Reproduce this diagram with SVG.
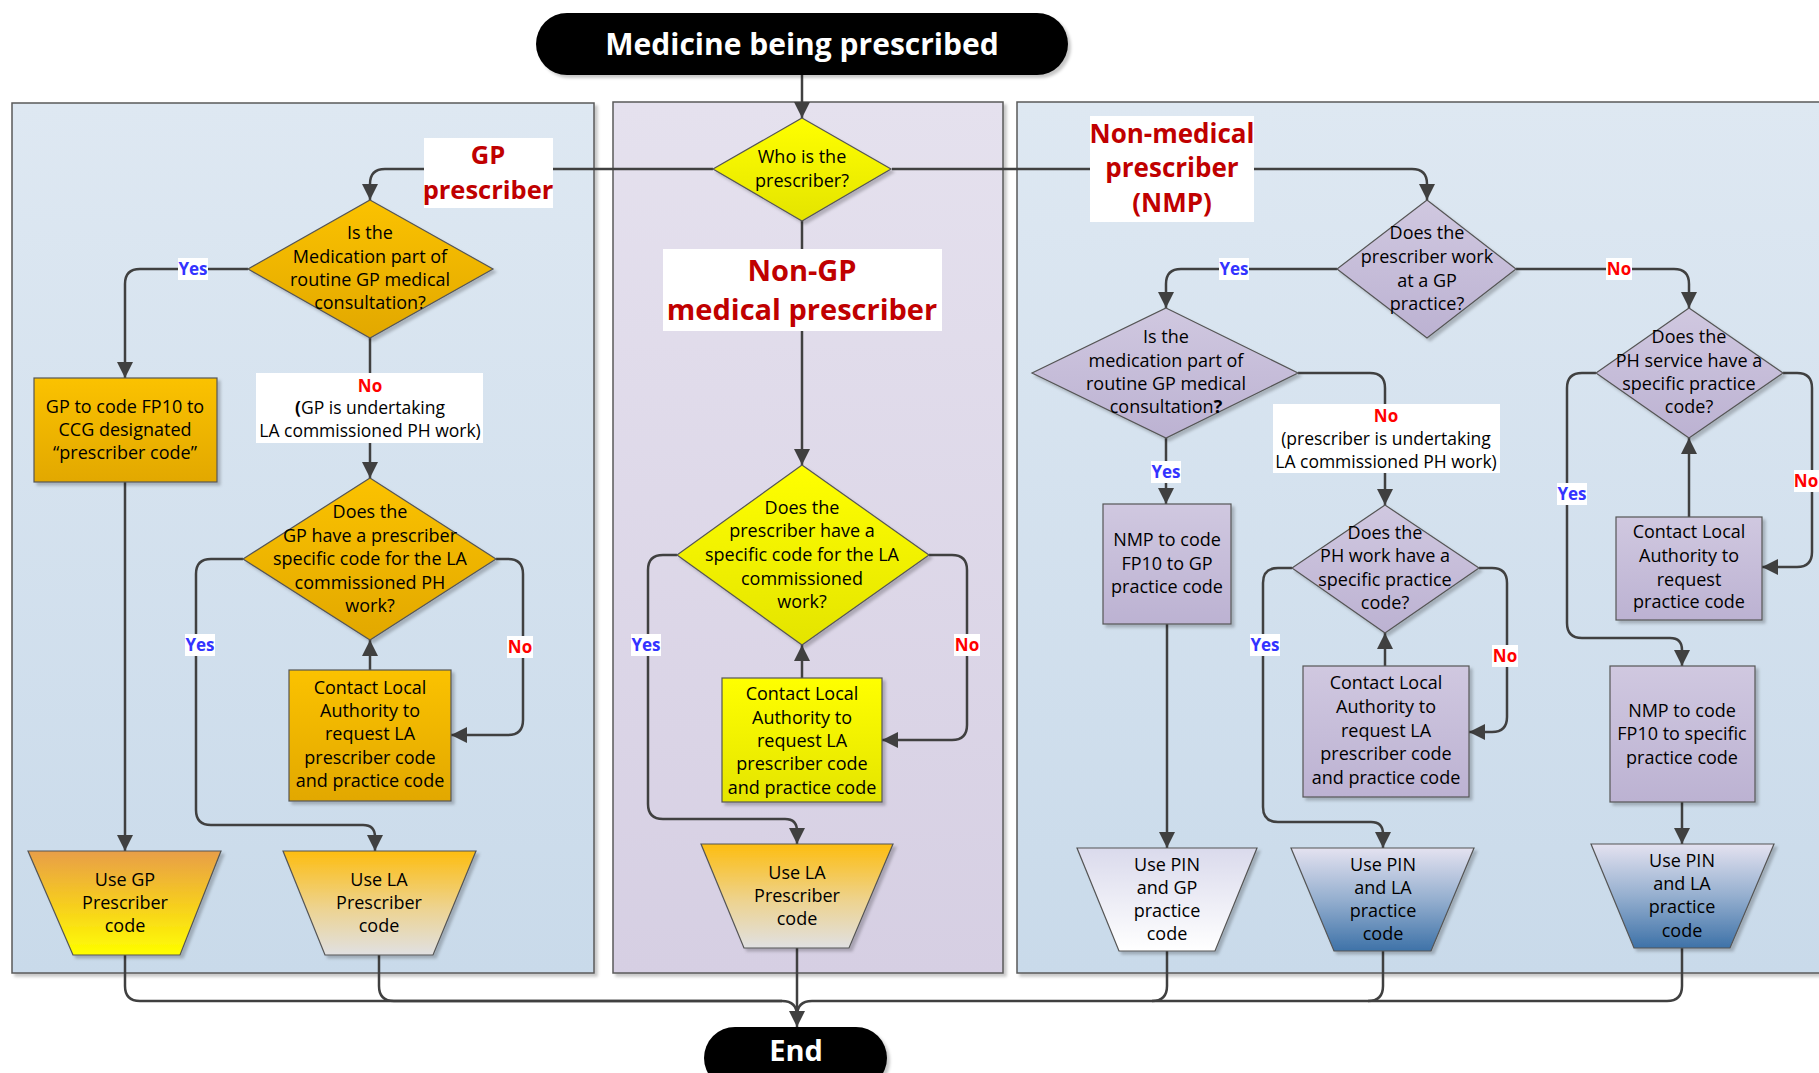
<svg xmlns="http://www.w3.org/2000/svg" width="1819" height="1073" viewBox="0 0 1819 1073">
<defs>
<style>
.conn{fill:none;stroke:#404040;stroke-width:2.5;stroke-linejoin:round}
.arr{marker-end:url(#ah)}
.t{font-family:"Open Sans","Liberation Sans",sans-serif;font-size:18px;fill:#000;text-anchor:middle}
.s17{font-size:17.5px}
.b{font-weight:700}
.yes{font-family:"Open Sans","Liberation Sans",sans-serif;font-size:17px;font-weight:700;fill:#3333FF;text-anchor:middle}
.no{font-family:"Open Sans","Liberation Sans",sans-serif;font-size:17px;font-weight:700;fill:#FF0000;text-anchor:middle}
.big{font-family:"Open Sans","Liberation Sans",sans-serif;font-weight:700;fill:#C00000;text-anchor:middle}
.term{font-family:"Open Sans","Liberation Sans",sans-serif;font-weight:700;fill:#fff;text-anchor:middle}
.wb{fill:#fff}
.nd{stroke:#555;stroke-width:1.2;filter:url(#sh)}
.lane{stroke:#5a5a5a;stroke-width:1.5;filter:url(#sh)}
.org{fill:url(#gOrg)}
.yel{fill:url(#gYel)}
.lav{fill:url(#gLav)}
</style>
<linearGradient id="gBlue" x1="0" y1="0" x2="0" y2="1"><stop offset="0" stop-color="#DEE8F2"/><stop offset="1" stop-color="#C9DAEA"/></linearGradient>
<linearGradient id="gPurp" x1="0" y1="0" x2="0" y2="1"><stop offset="0" stop-color="#E5E1EE"/><stop offset="1" stop-color="#D6CFE3"/></linearGradient>
<linearGradient id="gOrg" x1="0" y1="0" x2="0" y2="1"><stop offset="0" stop-color="#FBC200"/><stop offset="1" stop-color="#E2A800"/></linearGradient>
<linearGradient id="gYel" x1="0" y1="0" x2="0" y2="1"><stop offset="0" stop-color="#FFFF00"/><stop offset="1" stop-color="#E4E400"/></linearGradient>
<linearGradient id="gLav" x1="0" y1="0" x2="0" y2="1"><stop offset="0" stop-color="#D0C8E0"/><stop offset="1" stop-color="#BCB2D2"/></linearGradient>
<linearGradient id="gTrGP" x1="0" y1="0" x2="0" y2="1"><stop offset="0" stop-color="#E89E48"/><stop offset="0.5" stop-color="#F6CC20"/><stop offset="1" stop-color="#FFFF00"/></linearGradient>
<linearGradient id="gTrLA" x1="0" y1="0" x2="0" y2="1"><stop offset="0" stop-color="#FDBD10"/><stop offset="0.55" stop-color="#EDD390"/><stop offset="1" stop-color="#E0E0E2"/></linearGradient>
<linearGradient id="gTrW" x1="0" y1="0" x2="0" y2="1"><stop offset="0" stop-color="#DADAEC"/><stop offset="1" stop-color="#FFFFFF"/></linearGradient>
<linearGradient id="gTrB" x1="0" y1="0" x2="0" y2="1"><stop offset="0" stop-color="#E4E2F0"/><stop offset="0.5" stop-color="#95AFCF"/><stop offset="1" stop-color="#3E72A8"/></linearGradient>
<marker id="ah" markerUnits="userSpaceOnUse" markerWidth="16" markerHeight="16" viewBox="0 0 16 16" refX="16" refY="8" orient="auto"><path d="M0,0 L16,8 L0,16 Z" fill="#404040"/></marker>
<filter id="sh" x="-10%" y="-10%" width="130%" height="130%"><feDropShadow dx="3" dy="3" stdDeviation="1.5" flood-color="#000" flood-opacity="0.22"/></filter>
</defs>
<rect width="1819" height="1073" fill="#fff"/>

<g id="lanes">
<rect id="lane-gp" class="lane" x="12" y="103" width="582" height="870" fill="url(#gBlue)"/>
<rect id="lane-nongp" class="lane" x="613" y="102" width="390" height="871" fill="url(#gPurp)"/>
<rect id="lane-nmp" class="lane" x="1017" y="102" width="830" height="871" fill="url(#gBlue)"/>
</g>

<g id="connectors">
<path class="conn arr" d="M802,75 V118"/>
<path class="conn arr" d="M713,169 H385 Q370,169 370,184 V200"/>
<path class="conn arr" d="M892,169 H1412 Q1427,169 1427,184 V200"/>
<path class="conn arr" d="M802,221 V465"/>
<path class="conn arr" d="M248,269 H140 Q125,269 125,284 V378"/>
<path class="conn arr" d="M370,338 V478"/>
<path class="conn arr" d="M125,482 V851"/>
<path class="conn arr" d="M243,559 H211 Q196,559 196,574 V810 Q196,825 211,825 H363 Q375,825 375,837 V851"/>
<path class="conn arr" d="M496,559 H508 Q523,559 523,574 V720 Q523,735 508,735 H451"/>
<path class="conn arr" d="M370,670 V640"/>
<path class="conn arr" d="M677,555 H663 Q648,555 648,570 V804 Q648,819 663,819 H785 Q797,819 797,831 V844"/>
<path class="conn arr" d="M929,555 H952 Q967,555 967,570 V725 Q967,740 952,740 H882"/>
<path class="conn arr" d="M802,678 V645"/>
<path class="conn arr" d="M1337,269 H1181 Q1166,269 1166,284 V308"/>
<path class="conn arr" d="M1516,269 H1674 Q1689,269 1689,284 V308"/>
<path class="conn arr" d="M1298,373 H1370 Q1385,373 1385,388 V505"/>
<path class="conn arr" d="M1166,438 V504"/>
<path class="conn arr" d="M1167,624 V848"/>
<path class="conn arr" d="M1292,568 H1278 Q1263,568 1263,583 V807 Q1263,822 1278,822 H1371 Q1383,822 1383,834 V848"/>
<path class="conn arr" d="M1479,568 H1492 Q1507,568 1507,583 V717 Q1507,732 1492,732 H1469"/>
<path class="conn arr" d="M1385,666 V633"/>
<path class="conn arr" d="M1596,373 H1582 Q1567,373 1567,388 V623 Q1567,638 1582,638 H1670 Q1682,638 1682,650 V666"/>
<path class="conn arr" d="M1783,373 H1797 Q1812,373 1812,388 V552 Q1812,567 1797,567 H1762"/>
<path class="conn arr" d="M1689,517 V438"/>
<path class="conn arr" d="M1682,802 V844"/>
<path class="conn" d="M125,955 V986 Q125,1001 140,1001 H782 Q797,1001 797,1016"/>
<path class="conn" d="M379,955 V986 Q379,1001 394,1001 H782"/>
<path class="conn" d="M1167,951 V986 Q1167,1001 1152,1001 H812 Q797,1001 797,1016"/>
<path class="conn" d="M1383,951 V986 Q1383,1001 1368,1001 H1152"/>
<path class="conn" d="M1682,948 V986 Q1682,1001 1667,1001 H1368"/>
<path class="conn arr" d="M797,948 V1027"/>
</g>

<g id="start">
<rect x="536" y="13" width="532" height="62" rx="31" fill="#000" filter="url(#sh)"/>
<text class="term" x="802" y="55" font-size="30">Medicine being prescribed</text>
</g>
<g id="end">
<rect x="704" y="1027" width="183" height="62" rx="31" fill="#000" filter="url(#sh)"/>
<text class="term" x="796" y="1061" font-size="29">End</text>
</g>

<g id="who">
<polygon class="nd yel" points="802,118 891,169 802,221 713,169"/>
<text class="t" x="802" y="163">Who is the</text>
<text class="t" x="802" y="187">prescriber?</text>
</g>

<g id="label-gp">
<rect class="wb" x="424" y="138" width="129" height="70"/>
<text class="big" x="488" y="164" font-size="25.5">GP</text>
<text class="big" x="488" y="199" font-size="25.5">prescriber</text>
</g>
<g id="label-nmp">
<rect class="wb" x="1090" y="116" width="164" height="106"/>
<text class="big" x="1172" y="143" font-size="26">Non-medical</text>
<text class="big" x="1172" y="177" font-size="26">prescriber</text>
<text class="big" x="1172" y="212" font-size="26">(NMP)</text>
</g>
<g id="label-nongp">
<rect class="wb" x="663" y="249" width="279" height="82"/>
<text class="big" x="802" y="281" font-size="29">Non-GP</text>
<text class="big" x="802" y="320" font-size="29">medical prescriber</text>
</g>

<g id="gp-q1">
<polygon class="nd org" points="370,200 493,269 370,338 248,269"/>
<text class="t" x="370" y="239">Is the</text>
<text class="t" x="370" y="263">Medication part of</text>
<text class="t" x="370" y="286">routine GP medical</text>
<text class="t" x="370" y="309">consultation?</text>
</g>
<g id="gp-fp10">
<rect class="nd org" x="34" y="378" width="183" height="104"/>
<text class="t" x="125" y="413">GP to code FP10 to</text>
<text class="t" x="125" y="436">CCG designated</text>
<text class="t" x="125" y="459">“prescriber code”</text>
</g>
<g id="gp-nolabel">
<rect class="wb" x="256" y="373" width="227" height="70"/>
<text class="no" x="370" y="392" font-size="18">No</text>
<text class="t s17" x="370" y="414"><tspan class="b">(</tspan>GP is undertaking</text>
<text class="t s17" x="370" y="437">LA commissioned PH work)</text>
</g>
<g id="gp-q2">
<polygon class="nd org" points="370,478 496,559 370,640 243,559"/>
<text class="t" x="370" y="518">Does the</text>
<text class="t" x="370" y="542">GP have a prescriber</text>
<text class="t" x="370" y="565">specific code for the LA</text>
<text class="t" x="370" y="589">commissioned PH</text>
<text class="t" x="370" y="612">work?</text>
</g>
<g id="gp-contact">
<rect class="nd org" x="289" y="670" width="162" height="131"/>
<text class="t" x="370" y="694">Contact Local</text>
<text class="t" x="370" y="717">Authority to</text>
<text class="t" x="370" y="740">request LA</text>
<text class="t" x="370" y="764">prescriber code</text>
<text class="t" x="370" y="787">and practice code</text>
</g>
<g id="gp-use-gp">
<polygon class="nd" fill="url(#gTrGP)" points="28,851 221,851 180,955 73,955"/>
<text class="t" x="125" y="886">Use GP</text>
<text class="t" x="125" y="909">Prescriber</text>
<text class="t" x="125" y="932">code</text>
</g>
<g id="gp-use-la">
<polygon class="nd" fill="url(#gTrLA)" points="283,851 476,851 433,955 325,955"/>
<text class="t" x="379" y="886">Use LA</text>
<text class="t" x="379" y="909">Prescriber</text>
<text class="t" x="379" y="932">code</text>
</g>

<g id="mid-q">
<polygon class="nd yel" points="802,465 929,555 802,645 677,555"/>
<text class="t" x="802" y="514">Does the</text>
<text class="t" x="802" y="537">prescriber have a</text>
<text class="t" x="802" y="561">specific code for the LA</text>
<text class="t" x="802" y="585">commissioned</text>
<text class="t" x="802" y="608">work?</text>
</g>
<g id="mid-contact">
<rect class="nd yel" x="722" y="678" width="160" height="124"/>
<text class="t" x="802" y="700">Contact Local</text>
<text class="t" x="802" y="724">Authority to</text>
<text class="t" x="802" y="747">request LA</text>
<text class="t" x="802" y="770">prescriber code</text>
<text class="t" x="802" y="794">and practice code</text>
</g>
<g id="mid-use-la">
<polygon class="nd" fill="url(#gTrLA)" points="701,844 893,844 849,948 744,948"/>
<text class="t" x="797" y="879">Use LA</text>
<text class="t" x="797" y="902">Prescriber</text>
<text class="t" x="797" y="925">code</text>
</g>

<g id="nmp-q1">
<polygon class="nd lav" points="1427,200 1516,269 1427,338 1337,269"/>
<text class="t" x="1427" y="239">Does the</text>
<text class="t" x="1427" y="263">prescriber work</text>
<text class="t" x="1427" y="287">at a GP</text>
<text class="t" x="1427" y="310">practice?</text>
</g>
<g id="nmp-q2">
<polygon class="nd lav" points="1166,308 1298,373 1166,438 1032,373"/>
<text class="t" x="1166" y="343">Is the</text>
<text class="t" x="1166" y="367">medication part of</text>
<text class="t" x="1166" y="390">routine GP medical</text>
<text class="t" x="1166" y="413">consultation<tspan class="b">?</tspan></text>
</g>
<g id="nmp-nolabel">
<rect class="wb" x="1273" y="404" width="227" height="69"/>
<text class="no" x="1386" y="422" font-size="18">No</text>
<text class="t s17" x="1386" y="445">(prescriber is undertaking</text>
<text class="t s17" x="1386" y="468">LA commissioned PH work)</text>
</g>
<g id="nmp-gp-code">
<rect class="nd lav" x="1103" y="504" width="128" height="120"/>
<text class="t" x="1167" y="546">NMP to code</text>
<text class="t" x="1167" y="570">FP10 to GP</text>
<text class="t" x="1167" y="593">practice code</text>
</g>
<g id="nmp-q3">
<polygon class="nd lav" points="1385,505 1479,568 1385,633 1292,568"/>
<text class="t" x="1385" y="539">Does the</text>
<text class="t" x="1385" y="562">PH work have a</text>
<text class="t" x="1385" y="586">specific practice</text>
<text class="t" x="1385" y="609">code?</text>
</g>
<g id="nmp-contact1">
<rect class="nd lav" x="1303" y="666" width="166" height="131"/>
<text class="t" x="1386" y="689">Contact Local</text>
<text class="t" x="1386" y="713">Authority to</text>
<text class="t" x="1386" y="737">request LA</text>
<text class="t" x="1386" y="760">prescriber code</text>
<text class="t" x="1386" y="784">and practice code</text>
</g>
<g id="nmp-q4">
<polygon class="nd lav" points="1689,308 1783,373 1689,438 1596,373"/>
<text class="t" x="1689" y="343">Does the</text>
<text class="t" x="1689" y="367">PH service have a</text>
<text class="t" x="1689" y="390">specific practice</text>
<text class="t" x="1689" y="413">code?</text>
</g>
<g id="nmp-contact2">
<rect class="nd lav" x="1616" y="517" width="146" height="103"/>
<text class="t" x="1689" y="538">Contact Local</text>
<text class="t" x="1689" y="562">Authority to</text>
<text class="t" x="1689" y="586">request</text>
<text class="t" x="1689" y="608">practice code</text>
</g>
<g id="nmp-specific-code">
<rect class="nd lav" x="1610" y="666" width="145" height="136"/>
<text class="t" x="1682" y="717">NMP to code</text>
<text class="t" x="1682" y="740">FP10 to specific</text>
<text class="t" x="1682" y="764">practice code</text>
</g>
<g id="nmp-use-pin-gp">
<polygon class="nd" fill="url(#gTrW)" points="1077,848 1257,848 1215,951 1119,951"/>
<text class="t" x="1167" y="871">Use PIN</text>
<text class="t" x="1167" y="894">and GP</text>
<text class="t" x="1167" y="917">practice</text>
<text class="t" x="1167" y="940">code</text>
</g>
<g id="nmp-use-pin-la1">
<polygon class="nd" fill="url(#gTrB)" points="1291,848 1474,848 1431,951 1334,951"/>
<text class="t" x="1383" y="871">Use PIN</text>
<text class="t" x="1383" y="894">and LA</text>
<text class="t" x="1383" y="917">practice</text>
<text class="t" x="1383" y="940">code</text>
</g>
<g id="nmp-use-pin-la2">
<polygon class="nd" fill="url(#gTrB)" points="1591,844 1774,844 1730,948 1634,948"/>
<text class="t" x="1682" y="867">Use PIN</text>
<text class="t" x="1682" y="890">and LA</text>
<text class="t" x="1682" y="913">practice</text>
<text class="t" x="1682" y="937">code</text>
</g>

<g id="edge-labels">
<rect class="wb" x="178" y="258" width="30" height="22"/><text class="yes" x="193" y="275">Yes</text>
<rect class="wb" x="185" y="634" width="30" height="22"/><text class="yes" x="200" y="651">Yes</text>
<rect class="wb" x="507" y="636" width="26" height="22"/><text class="no" x="520" y="653">No</text>
<rect class="wb" x="631" y="634" width="30" height="22"/><text class="yes" x="646" y="651">Yes</text>
<rect class="wb" x="954" y="634" width="26" height="22"/><text class="no" x="967" y="651">No</text>
<rect class="wb" x="1219" y="258" width="30" height="22"/><text class="yes" x="1234" y="275">Yes</text>
<rect class="wb" x="1606" y="258" width="26" height="22"/><text class="no" x="1619" y="275">No</text>
<rect class="wb" x="1151" y="461" width="30" height="22"/><text class="yes" x="1166" y="478">Yes</text>
<rect class="wb" x="1250" y="634" width="30" height="22"/><text class="yes" x="1265" y="651">Yes</text>
<rect class="wb" x="1492" y="645" width="26" height="22"/><text class="no" x="1505" y="662">No</text>
<rect class="wb" x="1557" y="483" width="30" height="22"/><text class="yes" x="1572" y="500">Yes</text>
<rect class="wb" x="1794" y="470" width="25" height="22"/><text class="no" x="1806" y="487">No</text>
</g>
</svg>
